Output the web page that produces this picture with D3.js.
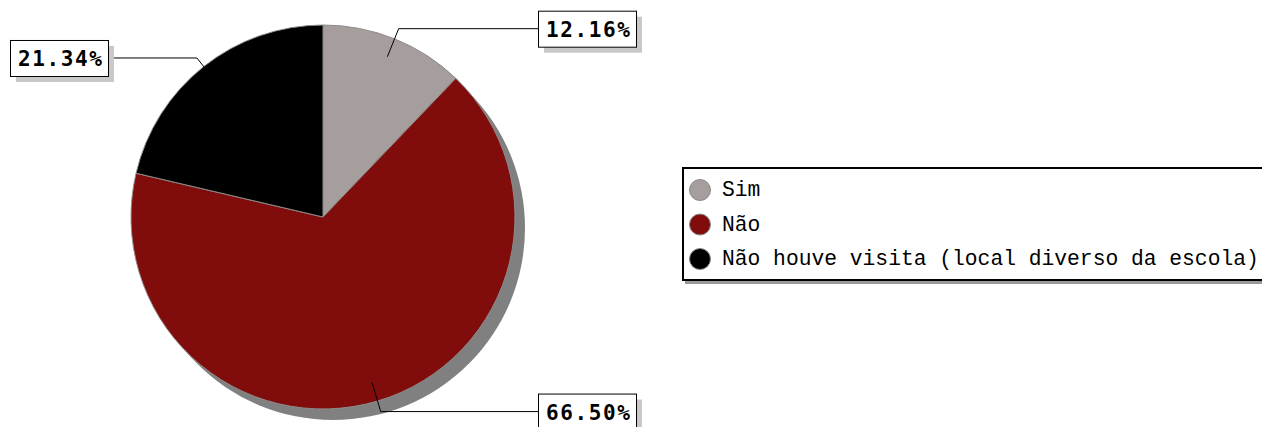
<!DOCTYPE html>
<html>
<head>
<meta charset="utf-8">
<script src="https://cdn.jsdelivr.net/npm/d3@7/dist/d3.min.js"></script>
<style>
  html, body { margin: 0; padding: 0; background: #fff; overflow: hidden; }
  svg { display: block; }
</style>
</head>
<body>
<svg id="chart" width="1262" height="427"></svg>
<script>
// Pie data: answer categories and their shares (%)
const categories = ["Sim", "Não", "Não houve visita (local diverso da escola)"];
const shares = [12.16, 66.50, 21.34];
const colors = ["#a69e9d", "#800c0c", "#000000"];

const W = 1262, H = 427;
const cx = 323, cy = 217, R = 192;

const svg = d3.select("#chart");

const pie = d3.pie().sort(null).value(d => d.value).startAngle(0).endAngle(2 * Math.PI);
const data = pie(categories.map((c, i) => ({ name: c, value: shares[i], color: colors[i] })));

const arc = d3.arc().innerRadius(0).outerRadius(R);

const g = svg.append("g").attr("transform", `translate(${cx},${cy})`);

// drop shadow under the pie
g.append("circle")
  .attr("cx", 10).attr("cy", 11).attr("r", R)
  .attr("fill", "#808080");

// slices
g.selectAll("path.slice")
  .data(data)
  .join("path")
  .attr("class", "slice")
  .attr("d", arc)
  .attr("fill", d => d.data.color)
  .attr("stroke", "#8c8c8c")
  .attr("stroke-width", 1);

// value labels with leader lines
const boxW = 98, boxH = 36, boxGap = 215;
const fmt = d3.format(".2f");
const labelFont = "'DejaVu Sans Mono', monospace";
const ls = 1.6;

data.forEach(d => {
  const mid = (d.startAngle + d.endAngle) / 2;
  const sx = Math.sin(mid), sy = -Math.cos(mid);
  const p0 = [0.9 * R * sx, 0.9 * R * sy];
  const p1 = [1.057 * R * sx, 1.057 * R * sy];
  const right = sx >= 0;
  const bx = right ? boxGap : -boxGap;

  g.append("polyline")
    .attr("points", [p0, p1, [bx, p1[1]]].map(p => p.join(",")).join(" "))
    .attr("fill", "none")
    .attr("stroke", "#000")
    .attr("stroke-width", 1);

  const left = right ? bx : bx - boxW;
  const top = p1[1] - boxH / 2;

  g.append("rect")
    .attr("x", left + 6).attr("y", top + 6)
    .attr("width", boxW).attr("height", boxH)
    .attr("fill", "#c8c8c8");
  g.append("rect")
    .attr("x", left + 0.5).attr("y", top + 0.5)
    .attr("width", boxW).attr("height", boxH)
    .attr("fill", "#fff")
    .attr("stroke", "#000")
    .attr("stroke-width", 1);
  g.append("text")
    .attr("x", left + boxW / 2 + ls / 2 + 1)
    .attr("y", top + boxH / 2 + 8)
    .attr("text-anchor", "middle")
    .attr("font-family", labelFont)
    .attr("font-weight", "bold")
    .attr("font-size", 21)
    .attr("letter-spacing", ls)
    .attr("fill", "#000")
    .text(fmt(d.data.value) + "%");
});

// legend
const lg = svg.append("g").attr("transform", "translate(682,167)");
lg.append("rect")
  .attr("x", 3).attr("y", 3).attr("width", 640).attr("height", 114)
  .attr("fill", "#999");
lg.append("rect")
  .attr("x", 1).attr("y", 1).attr("width", 640).attr("height", 112)
  .attr("fill", "#fff")
  .attr("stroke", "#000")
  .attr("stroke-width", 2);

const rowY = d3.scalePoint().domain(categories).range([23, 92]);

const rows = lg.selectAll("g.row")
  .data(data)
  .join("g")
  .attr("class", "row")
  .attr("transform", d => `translate(0,${rowY(d.data.name)})`);

rows.append("circle")
  .attr("cx", 18).attr("cy", 0).attr("r", 10.5)
  .attr("fill", d => d.data.color)
  .attr("stroke", "#888")
  .attr("stroke-width", 1);

rows.append("text")
  .attr("x", 40).attr("y", 6)
  .attr("font-family", "'Liberation Mono', 'Courier New', monospace")
  .attr("font-size", 21.3)
  .attr("fill", "#000")
  .text(d => d.data.name);
</script>
</body>
</html>
